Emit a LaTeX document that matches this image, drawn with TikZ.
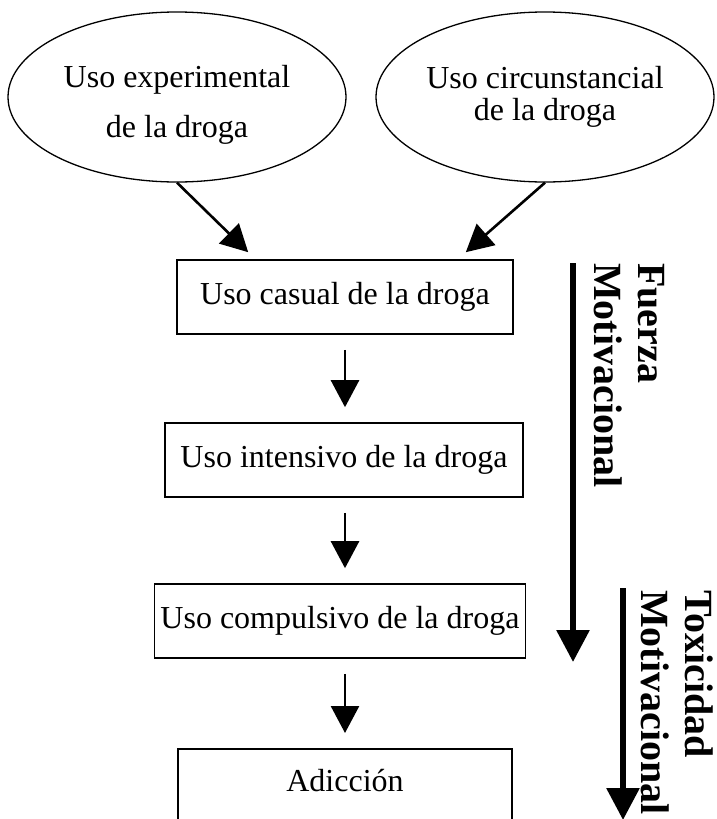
\documentclass[tikz,border=0pt]{standalone}
\usepackage{fontspec}
\setmainfont{Liberation Serif}
\usetikzlibrary{arrows.meta, calc, shapes.geometric}

\begin{document}
\begin{tikzpicture}[x=1pt, y=-1pt, >={Triangle[length=27pt, width=28pt]},
  usobox/.style={draw, line width=1.6pt, minimum height=74pt, inner sep=0pt, font=\fontsize{32}{36}\selectfont},
  usoell/.style={ellipse, draw, line width=1.3pt, minimum width=338pt, minimum height=170pt, inner sep=0pt, align=center},
  flecha/.style={->, line width=2.6pt, shorten <=15pt, shorten >=15pt},
  fuerza/.style={-{Triangle[length=32pt, width=32pt]}, line width=6pt},
  vertlabel/.style={rotate=-90, anchor=north west, align=left, inner sep=0pt, font=\fontsize{40}{44}\selectfont\bfseries}]
\useasboundingbox (0,0) rectangle (716,819);
% sources
\node[usoell, font=\fontsize{32}{50}\selectfont] (experimental) at (177,97) {\rule{0pt}{38pt}Uso experimental\\de la droga};
\node[usoell, font=\fontsize{32}{32}\selectfont] (circunstancial) at (545,97) {Uso circunstancial\\de la droga};
% chain of use
\node[usobox, minimum width=336pt] (casual) at (345,297) {Uso casual de la droga};
\node[usobox, minimum width=358pt] (intensivo) at (344,460) {Uso intensivo de la droga};
\node[usobox, minimum width=371pt] (compulsivo) at (340,621) {Uso compulsivo de la droga};
\node[usobox, minimum width=334pt, minimum height=0pt, anchor=north, inner ysep=20pt, text depth=40pt] (adiccion) at (345,748) {Adicción};
\coordinate (llegada1) at ($(casual.north west)+(72,-7)$);
\coordinate (llegada2) at ($(casual.north east)+(-48,-7)$);
\draw[flecha, shorten <=0pt, shorten >=0pt] (experimental.south) -- (llegada1);
\draw[flecha, shorten <=0pt, shorten >=0pt] (circunstancial.south) -- (llegada2);
\draw[flecha] (casual.south) -- (casual.south |- intensivo.north);
\draw[flecha] (casual.south |- intensivo.south) -- (casual.south |- compulsivo.north);
\draw[flecha] (casual.south |- compulsivo.south) -- (adiccion.north);
% side arrows
\coordinate (fuerzaini) at (573,263);
\coordinate (fuerzafin) at (573,662);
\draw[fuerza] (fuerzaini) -- (fuerzafin);
\node[vertlabel] (fuerzatxt) at (665,263) {Fuerza\\Motivacional};
\coordinate (toxini) at (623,588);
\coordinate (toxfin) at (623,820);
\draw[fuerza] (toxini) -- (toxfin);
\node[vertlabel] (toxtxt) at (713,590) {Toxicidad\\Motivacional};
\end{tikzpicture}
\end{document}
